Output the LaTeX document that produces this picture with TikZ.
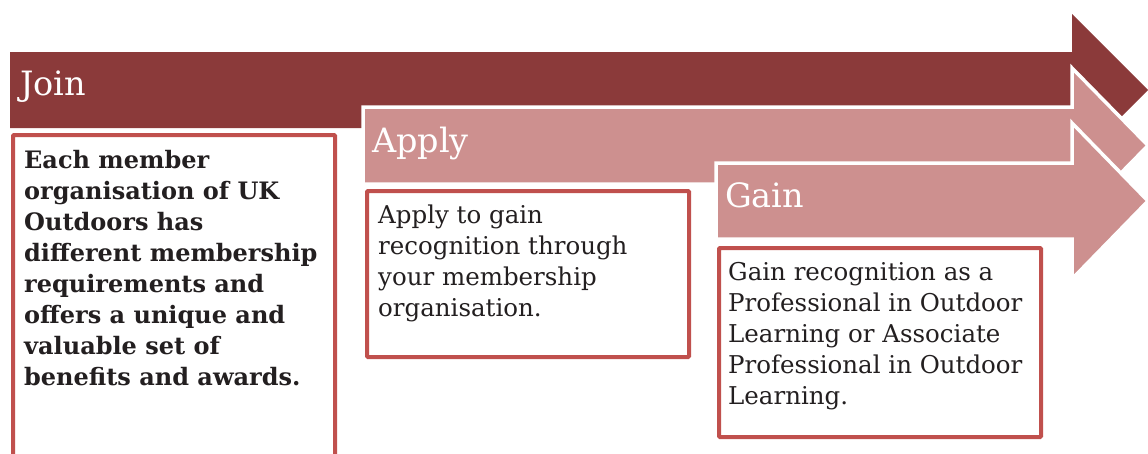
\documentclass[tikz,border=0pt]{standalone}
\usepackage{fontspec}
\setmainfont{DejaVu Serif}

\definecolor{joinred}{HTML}{8B3A3A}
\definecolor{steppink}{HTML}{CD908F}
\definecolor{boxred}{HTML}{C0504D}
\definecolor{bodytext}{HTML}{231F20}

\tikzset{
  steptitle/.style={anchor=base west, text=white, inner sep=0pt, font=\fontsize{33.5}{40}\selectfont},
  stepbox/.style={draw=boxred, line width=4pt, fill=white, anchor=north west, rounded corners=1pt},
  steptext/.style={anchor=base west, align=left, text=bodytext, inner sep=0pt, font=\fontsize{24.5}{31}\selectfont},
}

\begin{document}
\begin{tikzpicture}[x=1pt,y=-1pt]
    \useasboundingbox (0,0) rectangle (1148,453);
    % the three arrows, back to front
    \fill[joinred] (10,52) -- (1072,52) -- (1072,14) -- (1148,90) -- (1072,166) -- (1072,128) -- (10,128) -- cycle;
    \filldraw[fill=steppink, draw=white, line width=3.5pt] (363,107) -- (1072,107) -- (1072,68) -- (1148,145.5) -- (1072,223) -- (1072,184) -- (363,184) -- cycle;
    \filldraw[fill=steppink, draw=white, line width=3.5pt] (716,163) -- (1072,163) -- (1072,123) -- (1148,201) -- (1072,279) -- (1072,239) -- (716,239) -- cycle;
    \node[steptitle] (join) at (20,95) {Join};
    \node[steptitle] (apply) at (372,152) {Apply};
    \node[steptitle] (gain) at (725,207) {Gain};
    % text boxes (texts sit on the baseline of their last line)
    \node[stepbox, minimum width=322pt, minimum height=330pt] (joinbox) at (11,133) {};
    \node[stepbox, minimum width=322pt, minimum height=166pt] (applybox) at (365,189) {};
    \node[stepbox, minimum width=322pt, minimum height=189pt] (gainbox) at (717,246) {};
    \node[steptext, font=\fontsize{24}{31}\selectfont\bfseries] (jointext) at (24,385) {Each member\\organisation of UK\\Outdoors has\\different membership\\requirements and\\offers a unique and\\valuable set of\\benefits and awards.};
    \node[steptext] (applytext) at (378,316) {Apply to gain\\recognition through\\your membership\\organisation.};
    \node[steptext] (gaintext) at (728,404) {Gain recognition as a\\Professional in Outdoor\\Learning or Associate\\Professional in Outdoor\\Learning.};
\end{tikzpicture}
\end{document}
